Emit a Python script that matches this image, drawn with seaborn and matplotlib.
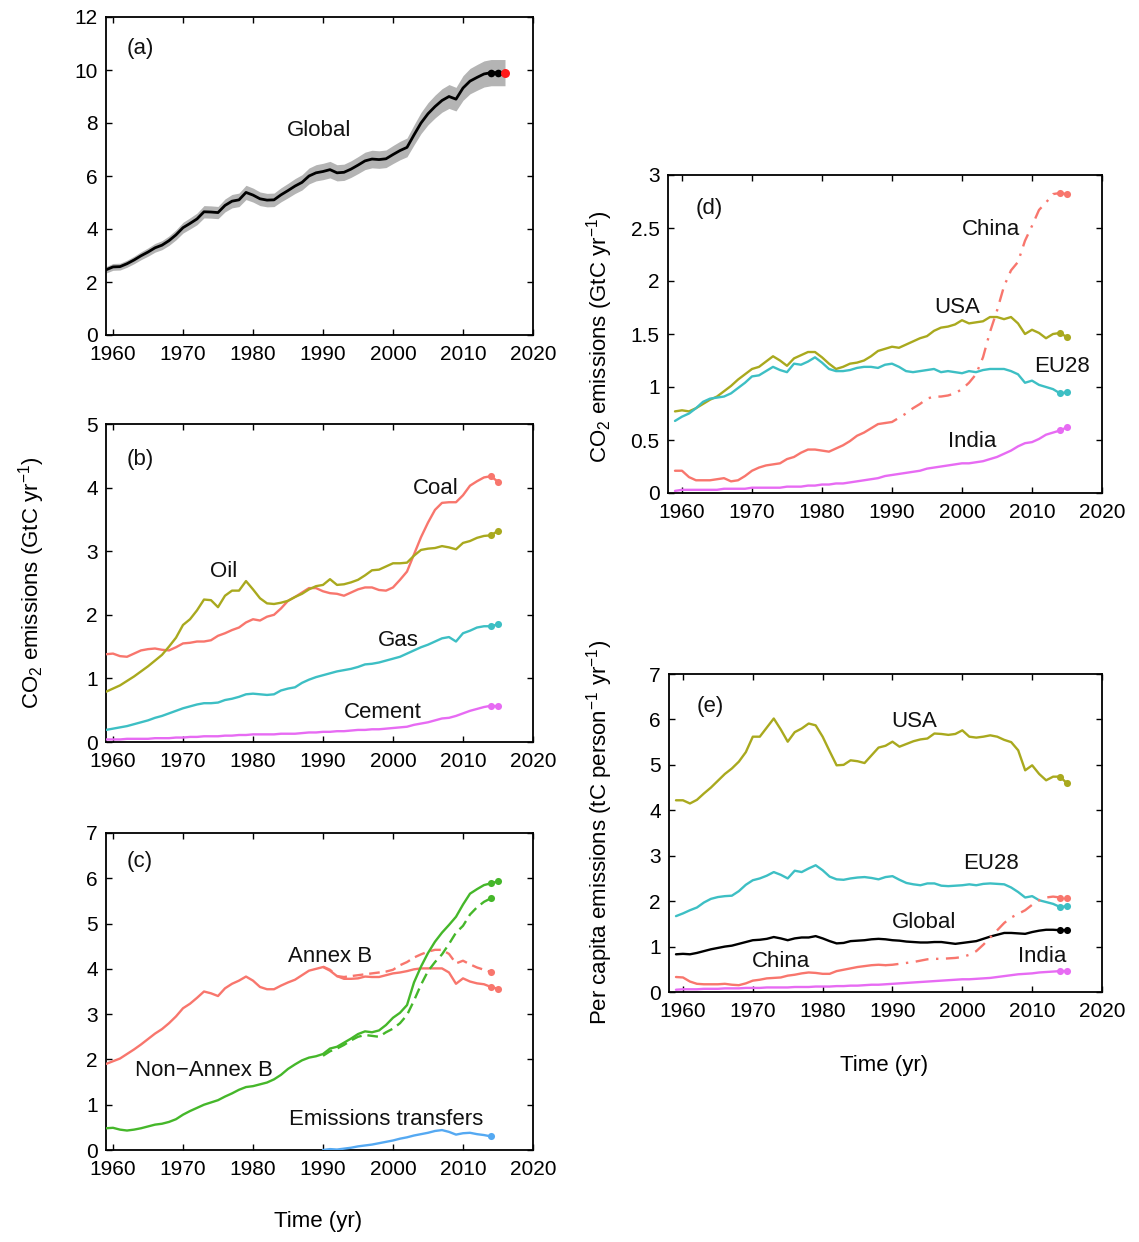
import numpy as np
import matplotlib
matplotlib.use("Agg")
import matplotlib.pyplot as plt
import seaborn as sns

# ---------------- data ----------------
years = np.arange(1959, 2016)          # 1959..2015
years_cons = np.arange(1990, 2015)     # consumption-based series 1990..2014
proj_year = 2016

global_ff = [2.46,
             2.57, 2.58, 2.69, 2.83, 2.99, 3.13, 3.29, 3.39, 3.56, 3.78,
             4.05, 4.21, 4.38, 4.65, 4.64, 4.62, 4.89, 5.05, 5.10, 5.38,
             5.28, 5.14, 5.09, 5.10, 5.29, 5.45, 5.62, 5.76, 6.00, 6.12,
             6.17, 6.24, 6.12, 6.14, 6.26, 6.41, 6.57, 6.64, 6.62, 6.65,
             6.81, 6.96, 7.08, 7.55, 8.00, 8.35, 8.62, 8.85, 9.00, 8.90,
             9.32, 9.58, 9.72, 9.85, 9.90, 9.90]
global_proj = 9.90
global_unc_frac = 0.05

coal = [1.38,
        1.39, 1.35, 1.34, 1.39, 1.44, 1.46, 1.47, 1.45, 1.44, 1.49,
        1.55, 1.56, 1.58, 1.58, 1.60, 1.67, 1.71, 1.76, 1.80, 1.88,
        1.93, 1.91, 1.97, 2.00, 2.10, 2.22, 2.28, 2.35, 2.42, 2.42,
        2.37, 2.34, 2.33, 2.30, 2.35, 2.40, 2.43, 2.43, 2.39, 2.38,
        2.43, 2.55, 2.68, 2.95, 3.22, 3.45, 3.65, 3.76, 3.77, 3.77,
        3.88, 4.03, 4.10, 4.16, 4.18, 4.09]
oil = [0.79,
       0.84, 0.89, 0.96, 1.03, 1.11, 1.19, 1.28, 1.37, 1.50, 1.64,
       1.84, 1.93, 2.07, 2.24, 2.23, 2.12, 2.30, 2.38, 2.38, 2.53,
       2.40, 2.26, 2.18, 2.17, 2.19, 2.22, 2.28, 2.33, 2.40, 2.45,
       2.47, 2.56, 2.47, 2.48, 2.51, 2.55, 2.62, 2.70, 2.71, 2.76,
       2.81, 2.81, 2.82, 2.93, 3.02, 3.04, 3.05, 3.08, 3.06, 3.03,
       3.13, 3.16, 3.21, 3.24, 3.25, 3.32]
gas = [0.19,
       0.21, 0.23, 0.25, 0.28, 0.31, 0.34, 0.38, 0.41, 0.45, 0.49,
       0.53, 0.56, 0.59, 0.61, 0.61, 0.62, 0.66, 0.68, 0.71, 0.75,
       0.76, 0.75, 0.74, 0.75, 0.81, 0.84, 0.86, 0.93, 0.98, 1.02,
       1.05, 1.08, 1.11, 1.13, 1.15, 1.18, 1.22, 1.23, 1.25, 1.28,
       1.31, 1.34, 1.39, 1.44, 1.49, 1.53, 1.58, 1.63, 1.65, 1.58,
       1.71, 1.75, 1.80, 1.82, 1.82, 1.85]
cement = [0.04,
          0.04, 0.04, 0.05, 0.05, 0.05, 0.05, 0.06, 0.06, 0.06, 0.07,
          0.07, 0.08, 0.08, 0.09, 0.09, 0.09, 0.10, 0.10, 0.11, 0.11,
          0.12, 0.12, 0.12, 0.12, 0.13, 0.13, 0.13, 0.14, 0.15, 0.15,
          0.16, 0.16, 0.17, 0.17, 0.18, 0.19, 0.19, 0.20, 0.20, 0.21,
          0.22, 0.23, 0.24, 0.27, 0.29, 0.31, 0.34, 0.37, 0.38, 0.41,
          0.45, 0.49, 0.52, 0.55, 0.57, 0.56]

annexB = [1.90,
          1.96, 2.02, 2.12, 2.22, 2.33, 2.45, 2.57, 2.67, 2.80, 2.95,
          3.13, 3.23, 3.36, 3.50, 3.46, 3.40, 3.57, 3.67, 3.74, 3.83,
          3.74, 3.60, 3.55, 3.55, 3.63, 3.70, 3.76, 3.86, 3.96, 4.00,
          4.04, 3.96, 3.84, 3.78, 3.78, 3.79, 3.83, 3.82, 3.82, 3.86,
          3.90, 3.92, 3.95, 3.99, 4.01, 4.01, 4.01, 4.01, 3.92, 3.67,
          3.79, 3.72, 3.68, 3.66, 3.60, 3.56]
nonannexB = [0.48,
             0.49, 0.45, 0.43, 0.45, 0.48, 0.52, 0.56, 0.58, 0.62, 0.68,
             0.78, 0.86, 0.93, 1.00, 1.05, 1.10, 1.18, 1.25, 1.33, 1.39,
             1.41, 1.45, 1.49, 1.56, 1.66, 1.79, 1.89, 1.98, 2.04, 2.07,
             2.12, 2.24, 2.28, 2.37, 2.46, 2.56, 2.62, 2.60, 2.64, 2.76,
             2.92, 3.03, 3.20, 3.70, 4.05, 4.35, 4.60, 4.80, 4.97, 5.15,
             5.42, 5.66, 5.76, 5.85, 5.89, 5.93]
annexB_cons = [4.05, 3.98, 3.84, 3.82, 3.84, 3.86, 3.88, 3.90, 3.92, 3.94,
               3.98, 4.08, 4.15, 4.25, 4.32, 4.38, 4.42, 4.42, 4.33, 4.12,
               4.18, 4.10, 4.03, 3.98, 3.93]
nonannexB_cons = [2.08, 2.18, 2.24, 2.32, 2.42, 2.50, 2.54, 2.52, 2.50, 2.60,
                  2.68, 2.80, 2.98, 3.30, 3.65, 3.95, 4.15, 4.32, 4.55, 4.80,
                  4.95, 5.20, 5.36, 5.48, 5.56]
transfers = [0.00, 0.02, 0.01, 0.03, 0.05, 0.08, 0.10, 0.12, 0.15, 0.18,
             0.21, 0.25, 0.28, 0.32, 0.35, 0.38, 0.42, 0.44, 0.40, 0.34,
             0.37, 0.38, 0.35, 0.33, 0.30]

usa = [0.77,
       0.78, 0.77, 0.80, 0.84, 0.88, 0.91, 0.96, 1.01, 1.07, 1.12,
       1.17, 1.19, 1.24, 1.29, 1.25, 1.20, 1.27, 1.30, 1.33, 1.33,
       1.28, 1.22, 1.17, 1.19, 1.22, 1.23, 1.25, 1.29, 1.34, 1.36,
       1.38, 1.37, 1.40, 1.43, 1.46, 1.48, 1.53, 1.56, 1.57, 1.59,
       1.63, 1.60, 1.61, 1.62, 1.66, 1.66, 1.64, 1.66, 1.60, 1.50,
       1.54, 1.51, 1.46, 1.50, 1.51, 1.47]
eu28 = [0.68,
        0.72, 0.75, 0.80, 0.86, 0.89, 0.90, 0.91, 0.94, 0.99, 1.04,
        1.10, 1.11, 1.15, 1.19, 1.16, 1.14, 1.22, 1.21, 1.24, 1.28,
        1.23, 1.17, 1.15, 1.15, 1.16, 1.18, 1.19, 1.19, 1.18, 1.21,
        1.22, 1.19, 1.15, 1.14, 1.15, 1.16, 1.17, 1.14, 1.15, 1.14,
        1.13, 1.15, 1.14, 1.16, 1.17, 1.17, 1.17, 1.15, 1.12, 1.04,
        1.06, 1.02, 1.00, 0.98, 0.94, 0.95]
china = [0.21,
         0.21, 0.15, 0.12, 0.12, 0.12, 0.13, 0.14, 0.11, 0.12, 0.16,
         0.21, 0.24, 0.26, 0.27, 0.28, 0.32, 0.34, 0.38, 0.41, 0.41,
         0.40, 0.39, 0.42, 0.45, 0.49, 0.54, 0.57, 0.61, 0.65, 0.66,
         0.67, 0.71, 0.75, 0.80, 0.84, 0.89, 0.91, 0.91, 0.92, 0.94,
         0.98, 1.04, 1.12, 1.28, 1.52, 1.72, 1.95, 2.10, 2.18, 2.38,
         2.52, 2.67, 2.74, 2.82, 2.83, 2.82]
india = [0.02,
         0.03, 0.03, 0.03, 0.03, 0.03, 0.03, 0.04, 0.04, 0.04, 0.04,
         0.05, 0.05, 0.05, 0.05, 0.05, 0.06, 0.06, 0.06, 0.07, 0.07,
         0.08, 0.08, 0.09, 0.09, 0.10, 0.11, 0.12, 0.13, 0.14, 0.16,
         0.17, 0.18, 0.19, 0.20, 0.21, 0.23, 0.24, 0.25, 0.26, 0.27,
         0.28, 0.28, 0.29, 0.30, 0.32, 0.34, 0.37, 0.40, 0.44, 0.47,
         0.48, 0.51, 0.55, 0.57, 0.59, 0.62]

usa_pc = [4.22,
          4.22, 4.15, 4.23, 4.37, 4.50, 4.65, 4.80, 4.92, 5.07, 5.28,
          5.62, 5.62, 5.82, 6.02, 5.78, 5.51, 5.72, 5.80, 5.91, 5.87,
          5.62, 5.30, 4.99, 5.00, 5.10, 5.08, 5.04, 5.21, 5.38, 5.42,
          5.51, 5.40, 5.46, 5.52, 5.56, 5.58, 5.69, 5.68, 5.66, 5.68,
          5.76, 5.62, 5.60, 5.62, 5.65, 5.62, 5.55, 5.50, 5.32, 4.88,
          4.99, 4.80, 4.66, 4.74, 4.74, 4.59]
eu28_pc = [1.67,
           1.73, 1.80, 1.86, 1.97, 2.05, 2.09, 2.11, 2.12, 2.22, 2.36,
           2.46, 2.50, 2.56, 2.64, 2.58, 2.50, 2.67, 2.64, 2.72, 2.79,
           2.68, 2.54, 2.48, 2.47, 2.50, 2.52, 2.53, 2.51, 2.48, 2.53,
           2.55, 2.47, 2.40, 2.37, 2.35, 2.39, 2.39, 2.34, 2.33, 2.34,
           2.35, 2.37, 2.35, 2.38, 2.39, 2.38, 2.37, 2.30, 2.20, 2.08,
           2.11, 2.02, 1.98, 1.94, 1.87, 1.89]
global_pc = [0.83,
             0.84, 0.83, 0.86, 0.90, 0.94, 0.97, 1.00, 1.02, 1.06, 1.10,
             1.14, 1.15, 1.17, 1.21, 1.18, 1.14, 1.18, 1.20, 1.20, 1.23,
             1.18, 1.12, 1.07, 1.08, 1.12, 1.13, 1.14, 1.16, 1.17, 1.16,
             1.14, 1.13, 1.11, 1.10, 1.09, 1.09, 1.10, 1.10, 1.08, 1.06,
             1.08, 1.10, 1.12, 1.17, 1.22, 1.26, 1.30, 1.30, 1.29, 1.28,
             1.32, 1.35, 1.37, 1.37, 1.36, 1.36]
china_pc = [0.33,
            0.32, 0.23, 0.18, 0.17, 0.17, 0.17, 0.18, 0.16, 0.15, 0.19,
            0.25, 0.27, 0.30, 0.31, 0.32, 0.36, 0.38, 0.41, 0.43, 0.42,
            0.40, 0.40, 0.46, 0.49, 0.52, 0.55, 0.57, 0.59, 0.60, 0.59,
            0.60, 0.62, 0.64, 0.66, 0.69, 0.72, 0.73, 0.73, 0.74, 0.75,
            0.77, 0.82, 0.90, 1.04, 1.20, 1.36, 1.52, 1.64, 1.72, 1.80,
            1.92, 2.02, 2.08, 2.10, 2.08, 2.06]
india_pc = [0.05,
            0.06, 0.06, 0.06, 0.07, 0.07, 0.07, 0.08, 0.08, 0.08, 0.09,
            0.09, 0.09, 0.10, 0.10, 0.10, 0.10, 0.11, 0.11, 0.11, 0.12,
            0.12, 0.12, 0.13, 0.13, 0.14, 0.14, 0.15, 0.16, 0.16, 0.17,
            0.18, 0.19, 0.20, 0.21, 0.22, 0.23, 0.24, 0.25, 0.26, 0.27,
            0.28, 0.28, 0.29, 0.30, 0.31, 0.33, 0.35, 0.37, 0.39, 0.40,
            0.41, 0.43, 0.44, 0.45, 0.46, 0.46]

china_split_year = 1989
xticks = [1960, 1970, 1980, 1990, 2000, 2010, 2020]

# ---------------- style ----------------
sns.set_theme(style="ticks")
plt.rcParams['font.family'] = ['Liberation Sans', 'DejaVu Sans']
plt.rcParams['mathtext.default'] = 'regular'
plt.rcParams['text.color'] = 'black'

C_RED = '#F8766D'
C_OLIVE = '#A9A91E'
C_CYAN = '#3DBFC4'
C_MAG = '#E76BF3'
C_GREEN = '#45B72A'
C_BLUE = '#55A9F2'
LW = 1.7
DASH = (0, (4.5, 2.5))
DASHDOT = (0, (5.5, 3.2, 1.0, 3.2))

W, H = 1139, 1242
fig = plt.figure(figsize=(W / 100, H / 100), dpi=100)


def add_ax(l, t, r, b):
    return fig.add_axes([l / W, 1 - b / H, (r - l) / W, (b - t) / H])


def style(ax, xlim, ylim, yticks, ylabels=None):
    ax.set_xlim(*xlim)
    ax.set_ylim(*ylim)
    ax.set_xticks(xticks)
    ax.set_yticks(yticks)
    if ylabels is not None:
        ax.set_yticklabels(ylabels)
    ax.set_xlabel('')
    ax.set_ylabel('')
    ax.tick_params(direction='in', top=True, right=True, length=4.5, width=1.0,
                   labelsize=15, colors='black')
    ax.tick_params(axis='x', pad=7)
    ax.tick_params(axis='y', pad=6)
    for s in ax.spines.values():
        s.set_visible(True)
        s.set_linewidth(1.3)
        s.set_color('black')


def line(ax, x, y, color, ls='-', lw=LW):
    sns.lineplot(x=np.asarray(x), y=np.asarray(y), ax=ax, color=color,
                 linewidth=lw, linestyle=ls, estimator=None, sort=False,
                 legend=False, zorder=3)


def dots(ax, x, y, color, s=26):
    sns.scatterplot(x=np.asarray(x), y=np.asarray(y), ax=ax, color=color, s=s,
                    linewidth=0, legend=False, zorder=4)


def label(ax, x, y, txt, ha='center'):
    ax.text(x, y, txt, fontsize=16, ha=ha, va='center', color='#111111')


# ---------- (a) ----------
ax = add_ax(106, 17, 533, 335)
band_x = list(years) + [proj_year]
band_y = np.array(global_ff + [global_proj])
ax.fill_between(band_x, band_y * (1 - global_unc_frac), band_y * (1 + global_unc_frac),
                color='#b4b4b4', linewidth=0, zorder=2)
line(ax, years, global_ff, 'black', lw=2.0)
dots(ax, years[-2:], global_ff[-2:], 'black', s=30)
dots(ax, [proj_year], [global_proj], '#FF1A1A', s=42)
style(ax, (1959, 2020), (0, 12), range(0, 13, 2))
label(ax, 1962, 10.8, '(a)', ha='left')
label(ax, 1989.5, 7.7, 'Global')

# ---------- (b) ----------
ax = add_ax(106, 424, 533, 742)
for ser, col in [(coal, C_RED), (oil, C_OLIVE), (gas, C_CYAN), (cement, C_MAG)]:
    line(ax, years, ser, col)
    dots(ax, years[-2:], ser[-2:], col)
style(ax, (1959, 2020), (0, 5), range(0, 6))
label(ax, 1962, 4.44, '(b)', ha='left')
label(ax, 2006.1, 3.98, 'Coal')
label(ax, 1975.8, 2.68, 'Oil')
label(ax, 2000.8, 1.59, 'Gas')
label(ax, 1998.5, 0.47, 'Cement')

# ---------- (c) ----------
ax = add_ax(106, 833, 533, 1150)
line(ax, years, annexB, C_RED)
dots(ax, years[-2:], annexB[-2:], C_RED)
line(ax, years_cons, annexB_cons, C_RED, ls=DASH)
dots(ax, years_cons[-1:], annexB_cons[-1:], C_RED)
line(ax, years, nonannexB, C_GREEN)
dots(ax, years[-2:], nonannexB[-2:], C_GREEN)
line(ax, years_cons, nonannexB_cons, C_GREEN, ls=DASH)
dots(ax, years_cons[-1:], nonannexB_cons[-1:], C_GREEN)
line(ax, years_cons, transfers, C_BLUE)
dots(ax, years_cons[-1:], transfers[-1:], C_BLUE)
style(ax, (1959, 2020), (0, 7), range(0, 8))
label(ax, 1962, 6.36, '(c)', ha='left')
label(ax, 1991, 4.28, 'Annex B')
label(ax, 1973, 1.75, 'Non\u2212Annex B')
label(ax, 1999, 0.68, 'Emissions transfers')

# ---------- (d) ----------
ax = add_ax(668, 175, 1102, 493)
i_split = int(np.where(years == china_split_year)[0][0])
line(ax, years, usa, C_OLIVE)
dots(ax, years[-2:], usa[-2:], C_OLIVE)
line(ax, years, eu28, C_CYAN)
dots(ax, years[-2:], eu28[-2:], C_CYAN)
line(ax, years[:i_split + 1], china[:i_split + 1], C_RED)
line(ax, years[i_split:], china[i_split:], C_RED, ls=DASHDOT)
dots(ax, years[-2:], china[-2:], C_RED)
line(ax, years, india, C_MAG)
dots(ax, years[-2:], india[-2:], C_MAG)
style(ax, (1958, 2020), (0, 3), [0, 0.5, 1, 1.5, 2, 2.5, 3],
      ['0', '0.5', '1', '1.5', '2', '2.5', '3'])
label(ax, 1962, 2.68, '(d)', ha='left')
label(ax, 2004.2, 2.49, 'China')
label(ax, 1999.3, 1.75, 'USA')
label(ax, 2014.3, 1.19, 'EU28')
label(ax, 2001.4, 0.49, 'India')

# ---------- (e) ----------
ax = add_ax(669, 674, 1102, 992)
line(ax, years, usa_pc, C_OLIVE)
dots(ax, years[-2:], usa_pc[-2:], C_OLIVE)
line(ax, years, eu28_pc, C_CYAN)
dots(ax, years[-2:], eu28_pc[-2:], C_CYAN)
line(ax, years, global_pc, 'black')
dots(ax, years[-2:], global_pc[-2:], 'black')
line(ax, years[:i_split + 1], china_pc[:i_split + 1], C_RED)
line(ax, years[i_split:], china_pc[i_split:], C_RED, ls=DASHDOT)
dots(ax, years[-2:], china_pc[-2:], C_RED)
line(ax, years, india_pc, C_MAG)
dots(ax, years[-2:], india_pc[-2:], C_MAG)
style(ax, (1958, 2020), (0, 7), range(0, 8))
label(ax, 1962, 6.28, '(e)', ha='left')
label(ax, 1993.1, 5.95, 'USA')
label(ax, 2004.1, 2.82, 'EU28')
label(ax, 1994.5, 1.52, 'Global')
label(ax, 1974.1, 0.68, 'China')
label(ax, 2011.5, 0.79, 'India')

# ---------- axis titles ----------
fig.text(32 / W, 1 - 583 / H, r'CO$_2$ emissions (GtC yr$^{-1}$)', rotation=90,
         ha='center', va='center', fontsize=16)
fig.text(600 / W, 1 - 337 / H, r'CO$_2$ emissions (GtC yr$^{-1}$)', rotation=90,
         ha='center', va='center', fontsize=16)
fig.text(600 / W, 1 - 832 / H, r'Per capita emissions (tC person$^{-1}$ yr$^{-1}$)',
         rotation=90, ha='center', va='center', fontsize=16)
fig.text(318 / W, 1 - 1222 / H, 'Time (yr)', ha='center', va='center', fontsize=16)
fig.text(884 / W, 1 - 1066 / H, 'Time (yr)', ha='center', va='center', fontsize=16)

fig.savefig('out.png', dpi=100, facecolor='white')
